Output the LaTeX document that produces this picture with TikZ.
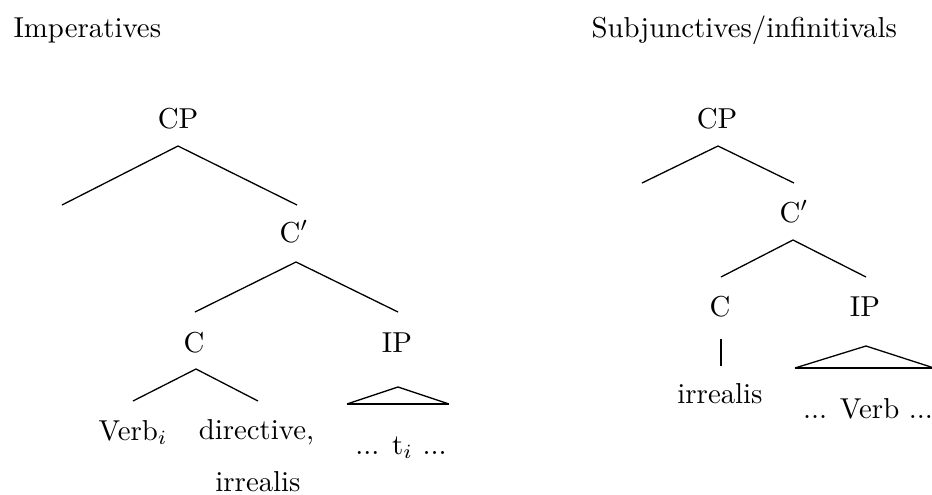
\documentclass[tikz,border=0pt]{standalone}
\begin{document}
\begin{tikzpicture}[x=0.347pt,y=-0.347pt,
  lbl/.style={inner sep=0pt, anchor=base},
  ttl/.style={inner sep=0pt, anchor=base west},
  br/.style={line width=0.45pt},
  tribase/.style={line width=0.7pt}]
\useasboundingbox (0,0) rectangle (932,494);
% titles
\node[ttl] (t1) at (13,37) {Imperatives};
\node[ttl] (t2) at (591,37) {Subjunctives/infinitivals};
% left tree
\node[lbl] (cpL) at (178,128) {CP};
\node[lbl] (cbL) at (294,242) {C$'$};
\node[lbl] (cL) at (194,352) {C};
\node[lbl] (ipL) at (397,352) {IP};
\node[lbl] (verbi) at (133,440) {Verb$_i$};
\node[lbl] (dir) at (256.5,439) {directive,};
\node[lbl] (irrL) at (258,491) {irrealis};
\node[lbl] (ti) at (401,454) {... t$_i$ ...};
\coordinate (a1) at (178,146); \coordinate (l1) at (62,205); \coordinate (r1) at (297,205);
\coordinate (a2) at (296,262); \coordinate (l2) at (195,312); \coordinate (r2) at (398,312);
\coordinate (a3) at (196,369); \coordinate (l3) at (133,401); \coordinate (r3) at (258,401);
\coordinate (ta1) at (398,387); \coordinate (tl1) at (347,404); \coordinate (tr1) at (449,404);
\draw[br] (l1) -- (a1) -- (r1);
\draw[br] (l2) -- (a2) -- (r2);
\draw[br] (l3) -- (a3) -- (r3);
\draw[br] (tl1) -- (ta1) -- (tr1);
\draw[tribase] (tl1) -- (tr1);
% right tree
\node[lbl] (cpR) at (717,128) {CP};
\node[lbl] (cbR) at (794,222) {C$'$};
\node[lbl] (cR) at (720,316) {C};
\node[lbl] (ipR) at (865,316) {IP};
\node[lbl] (irrR) at (720,403) {irrealis};
\node[lbl] (verb) at (868,418) {... Verb ...};
\coordinate (a4) at (718,146); \coordinate (l4) at (642,183); \coordinate (r4) at (794,183);
\coordinate (a5) at (793,240); \coordinate (l5) at (721,277); \coordinate (r5) at (866,277);
\coordinate (v1) at (721,339); \coordinate (v2) at (721,366);
\coordinate (ta2) at (866,346); \coordinate (tl2) at (795,368); \coordinate (tr2) at (934,368);
\draw[br] (l4) -- (a4) -- (r4);
\draw[br] (l5) -- (a5) -- (r5);
\draw[br] (v1) -- (v2);
\draw[br] (tl2) -- (ta2) -- (tr2);
\draw[tribase] (tl2) -- (tr2);
\end{tikzpicture}
\end{document}
